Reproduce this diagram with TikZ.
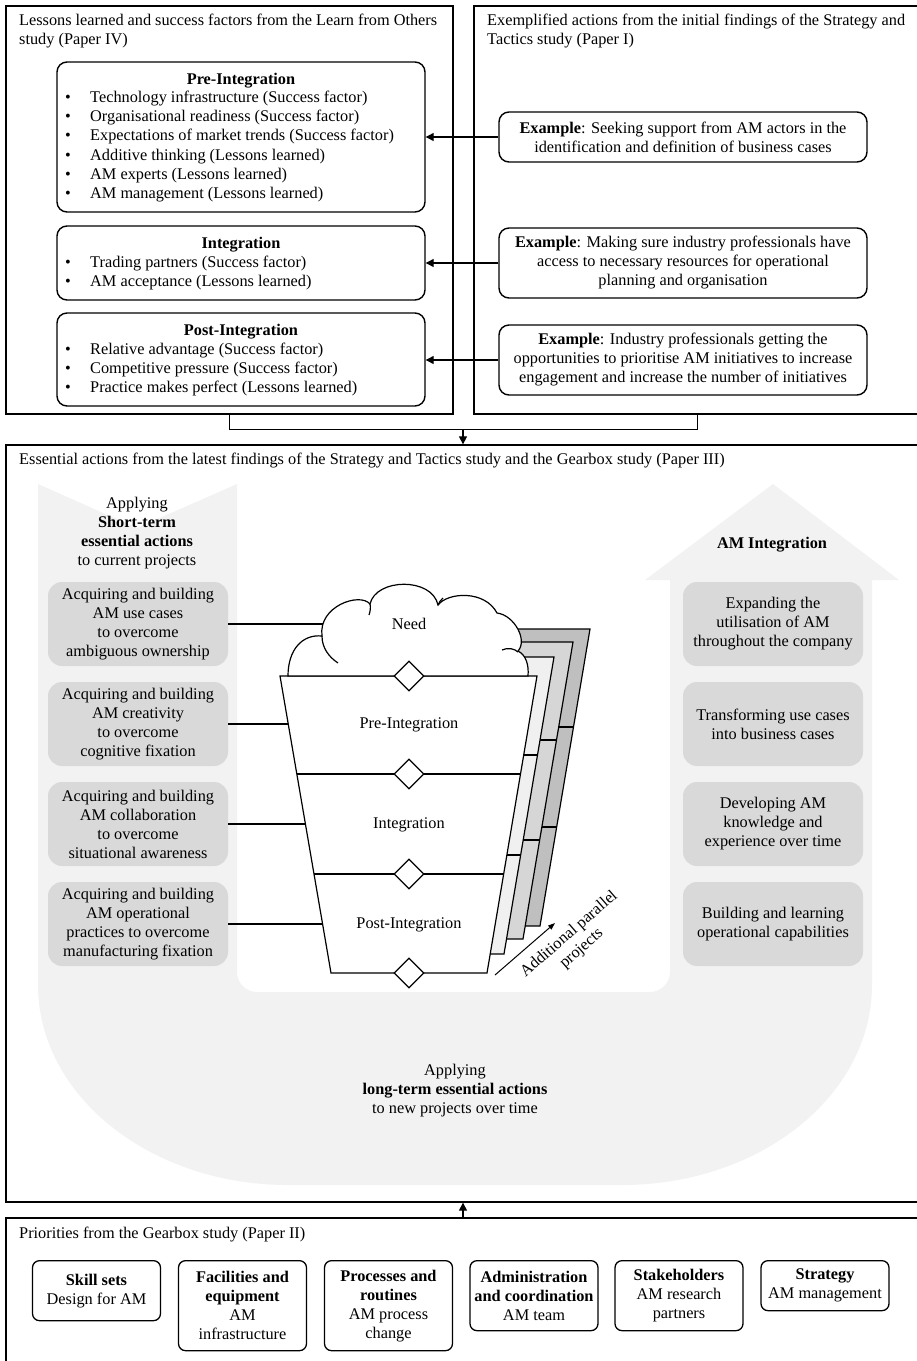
\documentclass[tikz,border=0pt]{standalone}
\usepackage{fontspec}
\setmainfont{Liberation Serif}
\usetikzlibrary{arrows.meta,shapes.geometric,calc}
\definecolor{stripgray}{HTML}{F2F2F2}
\definecolor{boxgray}{HTML}{D9D9D9}
\definecolor{sheetA}{HTML}{F0F0F0}
\definecolor{sheetB}{HTML}{D6D6D6}
\definecolor{sheetC}{HTML}{BFBFBF}
\begin{document}
\begin{tikzpicture}[x=1pt,y=-1pt,
  every node/.style={font=\fontsize{16.3}{19}\selectfont, inner sep=0pt},
  frame/.style={draw, line width=1.3pt},
  rbox/.style={draw, line width=1.4pt, rounded corners=10pt, align=center},
  gbox/.style={fill=boxgray, rounded corners=14pt, align=center, minimum width=180pt, minimum height=84pt},
  pbox/.style={draw, line width=1.3pt, rounded corners=7pt, align=center, minimum width=128pt, anchor=north},
  line/.style={line width=1.2pt},
  conn/.style={line width=0.8pt},
  arr/.style={line width=1.2pt, -{Triangle[length=8pt,width=8pt]}},
  itm/.style={anchor=west, text height=11pt, text depth=4pt},
  dia/.style={diamond, draw, line width=1.2pt, fill=white, minimum width=30pt, minimum height=30pt},
]
\useasboundingbox (0,0) rectangle (917,1361);

% ---------- frames ----------
\node[frame, minimum width=447pt, minimum height=408pt] (tl) at (229.5,210) {};
\node[frame, minimum width=446pt, minimum height=408pt] (tr) at (697,210) {};
\node[frame, minimum width=914pt, minimum height=757pt] (ess) at (463,823.5) {};
\node[frame, minimum width=914pt, minimum height=150pt] (pri) at (463,1293) {};

% ---------- frame titles ----------
\node[itm] (tlt1) at (19,22) {\makebox[418pt][s]{Lessons learned and success factors from the Learn from Others}};
\node[itm] (tlt2) at (19,41) {study (Paper IV)};
\node[itm] (trt1) at (487,22) {\makebox[418pt][s]{Exemplified actions from the initial findings of the Strategy and}};
\node[itm] (trt2) at (487,41) {Tactics study (Paper I)};
\node[itm] (esst) at (19,461) {Essential actions from the latest findings of the Strategy and Tactics study and the Gearbox study (Paper III)};
\node[itm] (prit) at (19,1235) {Priorities from the Gearbox study (Paper II)};

% ---------- top-left boxes ----------
\node[rbox, minimum width=368pt, minimum height=150pt] (pre) at (241,137) {};
\node[rbox, minimum width=368pt, minimum height=74pt] (int) at (241,263) {};
\node[rbox, minimum width=368pt, minimum height=93pt] (post) at (241,359.5) {};
\node (pret) at (241,81) {\textbf{Pre-Integration}};
\node (intt) at (241,245) {\textbf{Integration}};
\node (postt) at (241,332) {\textbf{Post-Integration}};
\foreach \t [count=\i, evaluate=\i as \yy using 99+19.2*(\i-1)] in
  {{Technology infrastructure (Success factor)},
   {Organisational readiness (Success factor)},
   {Expectations of market trends (Success factor)},
   {Additive thinking (Lessons learned)},
   {AM experts (Lessons learned)},
   {AM management (Lessons learned)}}
  {\node[itm] (pb\i) at (65,\yy) {•}; \node[itm] (p\i) at (90,\yy) {\t};}
\foreach \t [count=\i, evaluate=\i as \yy using 263.5+19.4*(\i-1)] in
  {{Trading partners (Success factor)},
   {AM acceptance (Lessons learned)}}
  {\node[itm] (ib\i) at (65,\yy) {•}; \node[itm] (i\i) at (90,\yy) {\t};}
\foreach \t [count=\i, evaluate=\i as \yy using 351+19*(\i-1)] in
  {{Relative advantage (Success factor)},
   {Competitive pressure (Success factor)},
   {Practice makes perfect (Lessons learned)}}
  {\node[itm] (qb\i) at (65,\yy) {•}; \node[itm] (q\i) at (90,\yy) {\t};}

% ---------- top-right example boxes ----------
\node[rbox, minimum width=368pt, minimum height=50pt] (ex1) at (683,137)
  {\textbf{Example}: Seeking support from AM actors in the\\identification and definition of business cases};
\node[rbox, minimum width=368pt, minimum height=70pt] (ex2) at (683,263)
  {\textbf{Example}: Making sure industry professionals have\\access to necessary resources for operational\\planning and organisation};
\node[rbox, minimum width=368pt, minimum height=70pt] (ex3) at (683,360)
  {\textbf{Example}: Industry professionals getting the\\opportunities to prioritise AM initiatives to increase\\engagement and increase the number of initiatives};
\draw[arr] (ex1.west) -- (ex1.west -| pre.east);
\draw[arr] (ex2.west) -- (ex2.west -| int.east);
\draw[arr] (ex3.west) -- (ex3.west -| post.east);

% ---------- connectors between frames ----------
\draw[conn] (tl.south) -- ++(0,15) -| (tr.south);
\coordinate (j0) at (0,429);
\coordinate (join) at (ess.north |- j0);
\draw[arr] (join) -- (ess.north);
\draw[arr] (pri.north) -- (ess.south);

% ---------- U-shaped background ----------
\fill[stripgray] (38,484) -- (137,528) -- (237,484) -- (237,972)
  .. controls (237,983) and (246,992) .. (257,992) -- (650,992)
  .. controls (661,992) and (670,983) .. (670,972) -- (670,580) -- (645,580)
  -- (773,484) -- (899,580) -- (872,580) -- (872,985)
  .. controls (872,1095.5) and (760,1185) .. (622,1185) -- (288,1185)
  .. controls (150,1185) and (38,1095.5) .. (38,985) -- cycle;

\node[align=center] (stl) at (137,533.5) {Applying\\\textbf{Short-term}\\\textbf{essential actions}\\to current projects};
\node (amint) at (772,545) {\textbf{AM Integration}};
\node[align=center] (lt) at (455,1091) {Applying\\\textbf{long-term essential actions}\\to new projects over time};

% ---------- gray action boxes ----------
\node[gbox] (l1) at (138,624) {Acquiring and building\\AM use cases\\to overcome\\ambiguous ownership};
\node[gbox] (l2) at (138,724) {Acquiring and building\\AM creativity\\to overcome\\cognitive fixation};
\node[gbox] (l3) at (138,824) {Acquiring and building\\AM collaboration\\to overcome\\situational awareness};
\node[gbox] (l4) at (138,924) {Acquiring and building\\AM operational\\practices to overcome\\manufacturing fixation};
\node[gbox] (r1) at (773,624) {Expanding the\\utilisation of AM\\throughout the company};
\node[gbox] (r2) at (773,724) {Transforming use cases\\into business cases};
\node[gbox] (r3) at (773,824) {Developing AM\\knowledge and\\experience over time};
\node[gbox] (r4) at (773,924) {Building and learning\\operational capabilities};

% ---------- parallel sheets ----------
\foreach \dx/\dy/\col in {53/-47/sheetC, 36/-34/sheetB, 17/-19/sheetA}{
  \begin{scope}[shift={(\dx,\dy)}]
    \draw[line, fill=\col] (280,676) -- (537,676) -- (487,973) -- (331,973) -- cycle;
    \draw[line] (296.8,774) -- (520.5,774);
    \draw[line] (314,874) -- (503.7,874);
  \end{scope}
}

% ---------- funnel ----------
\coordinate (fTL) at (280,676);
\coordinate (fTR) at (537,676);
\coordinate (fBR) at (487,973);
\coordinate (fBL) at (331,973);
\coordinate (s1L) at (296.8,774);
\coordinate (s1R) at (520.5,774);
\coordinate (s2L) at (314,874);
\coordinate (s2R) at (503.7,874);
\draw[line, fill=white] (fTL) -- (fTR) -- (fBR) -- (fBL) -- cycle;
\draw[line] (s1L) -- (s1R);
\draw[line] (s2L) -- (s2R);

% cloud
\draw[line, fill=white] (288,676) .. controls (288,650) and (302,634) .. (322,636)
  .. controls (318,606) and (360,592) .. (370,604)
  .. controls (376,578) and (432,577) .. (438,605)
  .. controls (448,592) and (485,590) .. (497,613)
  .. controls (514,615) and (528,640) .. (518,651)
  .. controls (526,655) and (529,665) .. (528,676) -- cycle;
\draw[line] (322,636) .. controls (322,648) and (329,657) .. (338,663);
\draw[line] (370,604) .. controls (371,608) and (370,612) .. (369,615);
\draw[line] (438,605) .. controls (439,602) and (441,600) .. (443,598);
\draw[line] (502,650) .. controls (508,647) and (515,649) .. (518,652);

\node[dia] (d0) at (409,676) {};
\node[dia] (d1) at (409,774) {};
\node[dia] (d2) at (409,874) {};
\node[dia] (d3) at (409,973) {};

\node (need) at (409,624) {Need};
\node (spre) at (409,725) {Pre-Integration};
\node (sint) at (409,825) {Integration};
\node (spost) at (409,925) {Post-Integration};

% connectors from short-term boxes
\coordinate (c1) at (322.5,624);
\coordinate (c2) at (288.2,724);
\coordinate (c3) at (305.4,824);
\coordinate (c4) at (322.6,924);
\draw[line] (l1.east) -- (c1);
\draw[line] (l2.east) -- (c2);
\draw[line] (l3.east) -- (c3);
\draw[line] (l4.east) -- (c4);

% additional projects arrow
\coordinate (aa1) at (495,975);
\coordinate (aa2) at (555,923);
\draw[line width=1pt, -{Triangle[length=7pt,width=5pt]}] (aa1) -- (aa2);
\node[align=center, rotate=41] (addl) at (575.5,941.5) {Additional parallel\\projects};

% ---------- priority boxes ----------
\node[pbox, minimum height=60pt] (b1) at (96.5,1260) {\textbf{Skill sets}\\Design for AM};
\node[pbox, minimum height=90pt] (b2) at (242.5,1260) {\textbf{Facilities and}\\\textbf{equipment}\\AM\\infrastructure};
\node[pbox, minimum height=90pt] (b3) at (388.5,1260) {\textbf{Processes and}\\\textbf{routines}\\AM process\\change};
\node[pbox, minimum height=70pt] (b4) at (534,1260) {\textbf{Administration}\\\textbf{and coordination}\\AM team};
\node[pbox, minimum height=70pt] (b5) at (679,1260) {\textbf{Stakeholders}\\AM research\\partners};
\node[pbox, minimum height=50pt] (b6) at (825,1260) {\textbf{Strategy}\\AM management};
\end{tikzpicture}
\end{document}
